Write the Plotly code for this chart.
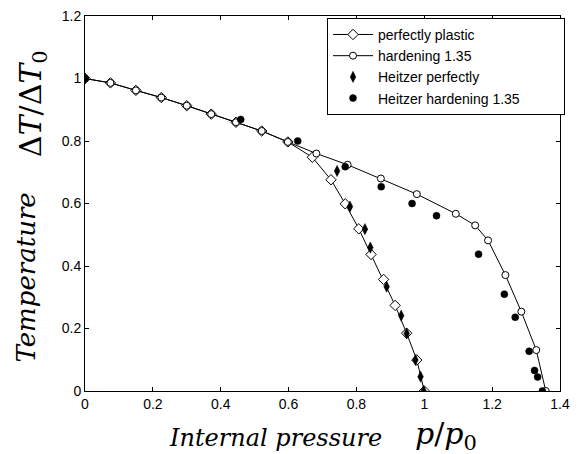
import plotly.graph_objects as go

# Perfectly plastic (open diamonds, line)
pp_x = [0, 0.075, 0.15, 0.225, 0.30, 0.372, 0.445, 0.521, 0.598, 0.670, 0.725, 0.767, 0.807, 0.843, 0.880, 0.914, 0.948, 0.978, 1.0]
pp_y = [1.0, 0.986, 0.962, 0.939, 0.913, 0.886, 0.860, 0.832, 0.797, 0.748, 0.676, 0.599, 0.519, 0.437, 0.357, 0.274, 0.185, 0.099, 0.0]

# Hardening 1.35 (open circles, line)
hd_x = [0, 0.075, 0.15, 0.225, 0.30, 0.372, 0.445, 0.521, 0.598, 0.682, 0.774, 0.872, 0.978, 1.093, 1.150, 1.188, 1.239, 1.286, 1.330, 1.358]
hd_y = [1.0, 0.986, 0.962, 0.939, 0.913, 0.886, 0.860, 0.832, 0.797, 0.760, 0.724, 0.680, 0.630, 0.567, 0.530, 0.482, 0.371, 0.254, 0.131, 0.0]

# Heitzer perfectly (filled diamonds)
hp_x = [0, 0.743, 0.781, 0.825, 0.841, 0.889, 0.932, 0.948, 0.974, 0.989, 0.998]
hp_y = [1.0, 0.704, 0.590, 0.518, 0.459, 0.334, 0.241, 0.184, 0.099, 0.046, 0.0]

# Heitzer hardening 1.35 (filled circles)
hh_x = [0, 0.459, 0.627, 0.767, 0.873, 0.964, 1.036, 1.160, 1.236, 1.268, 1.309, 1.325, 1.334, 1.348]
hh_y = [1.0, 0.869, 0.800, 0.718, 0.654, 0.600, 0.561, 0.438, 0.310, 0.236, 0.127, 0.066, 0.045, 0.0]

x_ticks = [0, 0.2, 0.4, 0.6, 0.8, 1.0, 1.2, 1.4]
x_ticklabels = ["0", "0.2", "0.4", "0.6", "0.8", "1", "1.2", "1.4"]
y_ticks = [0, 0.2, 0.4, 0.6, 0.8, 1.0, 1.2]
y_ticklabels = ["0", "0.2", "0.4", "0.6", "0.8", "1", "1.2"]

fig = go.Figure()
fig.add_trace(go.Scatter(
    x=pp_x, y=pp_y, mode="lines+markers", name="perfectly plastic",
    line=dict(color="black", width=1),
    marker=dict(symbol="diamond", size=8, color="white", line=dict(color="black", width=1)),
))
fig.add_trace(go.Scatter(
    x=hd_x, y=hd_y, mode="lines+markers", name="hardening 1.35",
    line=dict(color="black", width=1),
    marker=dict(symbol="circle", size=7, color="white", line=dict(color="black", width=1)),
))
fig.add_trace(go.Scatter(
    x=hp_x, y=hp_y, mode="markers", name="Heitzer perfectly",
    marker=dict(symbol="diamond-tall", size=8, color="black", line=dict(color="black", width=0.5)),
))
fig.add_trace(go.Scatter(
    x=hh_x, y=hh_y, mode="markers", name="Heitzer hardening 1.35" + "\u00a0" * 10,
    marker=dict(symbol="circle", size=7, color="black", line=dict(color="black", width=0.5)),
))

axis_common = dict(
    showline=True, linecolor="black", linewidth=1, mirror="ticks",
    ticks="inside", ticklen=4, tickcolor="black", tickwidth=1,
    showgrid=False, zeroline=False, automargin=False, ticklabeloverflow="allow",
    tickfont=dict(family="Liberation Sans, Arial, sans-serif", size=14, color="black"),
)

TXT_X = dict(family="DejaVu Serif", size=24, color="black")
TXT_Y = dict(family="DejaVu Serif", size=26, color="black")
MATH = dict(family="DejaVu Serif", size=30, color="black")

annotations = [
    dict(text="<i>Internal pressure</i>", xref="paper", yref="paper", x=0.40, y=-0.1254,
         xanchor="center", yanchor="middle", showarrow=False, font=TXT_X),
    dict(text="<i>p</i>/<i>p</i><sub>0</sub>", xref="paper", yref="paper", x=0.76, y=-0.119,
         xanchor="center", yanchor="middle", showarrow=False, font=MATH),
    dict(text="<i>Temperature</i>", xref="paper", yref="paper", x=-0.124, y=0.3027,
         xanchor="center", yanchor="middle", showarrow=False, textangle=-90, font=TXT_Y),
    dict(text="Δ<i>T</i>/Δ<i>T</i><sub>0</sub>", xref="paper", yref="paper", x=-0.1115, y=0.765,
         xanchor="center", yanchor="middle", showarrow=False, textangle=-90, font=MATH),
]

# The page body adds an 8px margin, so the figure is sized to fill the rest of the window.
fig.update_layout(
    width=571, height=446,
    margin=dict(l=77, r=19, t=8, b=63),
    paper_bgcolor="white", plot_bgcolor="white",
    xaxis=dict(range=[0, 1.4], tickvals=x_ticks, ticktext=x_ticklabels, **axis_common),
    yaxis=dict(range=[0, 1.2], tickvals=y_ticks, ticktext=y_ticklabels, **axis_common),
    legend=dict(
        x=0.5095, y=0.995, xanchor="left", yanchor="top",
        bordercolor="black", borderwidth=1, bgcolor="white",
        font=dict(family="Liberation Sans, Arial, sans-serif", size=14, color="black"),
        tracegroupgap=0, itemwidth=40,
    ),
    annotations=annotations,
    showlegend=True,
)

fig.write_html("out.html")
